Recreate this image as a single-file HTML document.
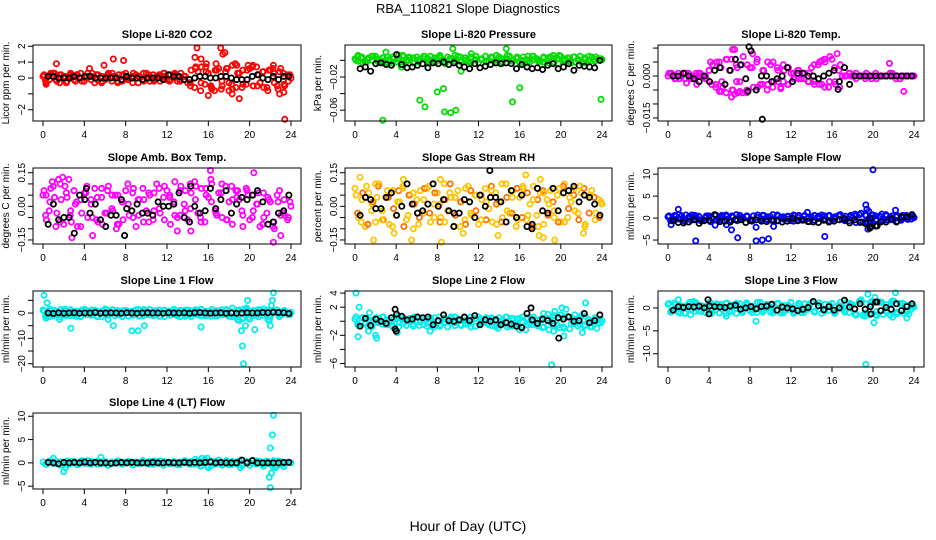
<!DOCTYPE html>
<html><head><meta charset="utf-8"><title>RBA_110821 Slope Diagnostics</title>
<style>
html,body{margin:0;padding:0;background:#fff;}
svg{display:block;font-family:"Liberation Sans",Arial,sans-serif;}
</style></head>
<body>
<svg id="chart" width="936" height="540" viewBox="0 0 936 540" xmlns="http://www.w3.org/2000/svg">
<rect x="0" y="0" width="936" height="540" fill="#fff"/>
<text x="468" y="13" text-anchor="middle" font-size="13">RBA_110821  Slope Diagnostics</text>
<text x="468" y="531" text-anchor="middle" font-size="14">Hour of Day (UTC)</text>
</svg>
<script>
// ---- data ----
const xTicks = [0,4,8,12,16,20,24];

const co2A=[0.1,-0.3,0.2,0.3,-0.2,0.2,0.1,-0.2,0.3,-0.1,0.2,0.0,-0.2,0.3,0.1,-0.3,0.2,0.1,-0.1,0.3,-0.2,0.1,0.2,-0.2,0.3,0.0,-0.3,0.2,0.1,-0.1,0.3,-0.2,0.2,0.1,-0.2,0.3,-0.1,0.2,0.0,-0.2,0.3,0.1,-0.3,0.5,-0.6,0.4,0.7,-0.4,0.3,-0.7,0.5,0.6,-0.5,0.4,-0.3,0.8,-0.6,0.3,0.5,-0.4,0.6,-0.5,0.7,-0.3,0.4,-0.6,0.5,0.3,-0.5,0.6,-0.4,0.2,0.0];
const co2B=[-0.2,0.3,-0.1,0.2,-0.3,0.1,0.2,-0.2,0.1,0.3,-0.1,-0.2,0.2,0.1,-0.3,0.2,-0.1,0.3,0.1,-0.2,0.2,-0.1,0.1,0.3,-0.2,0.2,-0.1,0.1,-0.3,0.6,-0.8,0.7,-0.5,0.9,-0.7,0.6,-0.4,0.8,-0.6,0.5,0.7,-0.5,0.4,-0.8,0.6,-0.7,0.3,-0.2];
const co2C=[0.2,-0.1,0.3,-0.3,0.1,0.2,-0.2,0.3,0.0,-0.1,0.2,-0.3,0.1,0.3,-0.2,0.2,-0.1,0.1,-0.3,0.3,0.0,-0.2,0.2,0.1,-0.1,0.3,-0.2,0.1,-0.5,0.7,-0.3,0.4,-0.6,0.5,-0.2,0.6,-0.7,0.3,-0.4,0.8,-0.5,0.2,-0.6,0.5,-0.3,0.4,-0.5,0.2];
const co2K=[0.1,0.1,0.0,0.0,0.0,0.1,0.0,0.1,0.1,0.0,0.0,0.0,0.0,0.0,-0.1,0.1,0.0,0.0,-0.1,0.0,0.0,0.0,-0.1,0.2,0.1,0.1,-0.1,-0.1,0.0,0.1,0.1,0.0,0.0,0.1,0.1,0.0,-0.1,-0.1,-0.1,0.1,0.2,0.0,-0.1,0.1,-0.1,0.1,0.1];
const co2OutH=[0.3,1.3,4.5,5.9,6.8,7.8,14.7,14.9,15.3,16.0,17.2,17.4,17.6,18.0,18.3,19.0,18.6,20.3,22.9,23.3,23.4,22.3,15.8,16.6];
const co2OutV=[-0.4,0.9,0.6,0.8,1.2,1.1,1.3,1.9,1.2,-1.1,1.9,1.5,1.6,-0.8,-1.0,-1.3,0.9,0.8,-1.0,-0.9,-2.6,0.8,0.9,-0.8];

const presA=[0.002,-0.001,0.004,-0.002,0.003,0.000,0.005,-0.001,0.003,-0.003,0.001,0.004,-0.002,0.002,0.005,-0.001,0.003,-0.003,0.004,0.000,0.002,-0.002,0.005,0.001,-0.001,0.003,-0.003,0.004,0.000,0.002,0.005,-0.002,0.003,-0.001,0.004,0.001,-0.003,0.002,0.005,-0.001,0.003,0.000,0.004,-0.002,0.002,0.005,-0.001,0.003,-0.003,0.004,0.001,-0.002,0.005,0.002,-0.001,0.003,0.000,0.004,-0.002,0.002,0.005,-0.001,0.003,-0.003,0.004,0.001,-0.002,0.003,0.000,0.004,-0.001,0.002,0.001];
const presB=[0.004,-0.003,0.001,0.005,-0.002,0.003,-0.004,0.002,0.006,-0.001,0.004,-0.003,0.001,0.005,-0.002,0.003,0.006,-0.004,0.002,-0.001,0.004,0.000,-0.003,0.005,0.001,-0.002,0.003,0.006,-0.004,0.002,-0.001,0.004,0.000,-0.003,0.005,0.001,-0.002,0.003,0.006,-0.004,0.002,-0.001,0.004,0.000,-0.003,0.005,0.001,0.002];
const presC=[0.000,0.003,-0.002,0.005,0.001,-0.001,0.004,-0.003,0.002,0.006,0.000,0.003,-0.002,0.005,0.001,-0.001,0.004,-0.003,0.002,0.006,0.000,0.003,-0.002,0.005,0.001,-0.001,0.004,-0.003,0.002,0.006,0.000,0.003,-0.002,0.005,0.001,-0.001,0.004,-0.003,0.002,0.006,0.000,0.003,-0.002,0.005,0.001,-0.001,0.004,0.002];
const presK=[-0.010,-0.008,-0.013,-0.004,-0.003,-0.005,-0.006,0.007,-0.005,-0.009,-0.008,-0.006,-0.004,-0.009,-0.003,-0.004,-0.002,-0.005,-0.003,-0.006,-0.008,-0.010,-0.004,-0.009,-0.007,-0.005,-0.003,-0.004,-0.003,-0.004,-0.010,-0.005,-0.008,-0.010,-0.009,-0.011,-0.006,-0.004,-0.010,-0.008,-0.004,-0.012,-0.006,-0.007,-0.008,-0.009,0.000];
const presOutH=[0.3,2.7,6.3,6.8,8.0,8.6,8.7,9.3,9.8,10.3,15.3,16.0,23.9,3.0,9.5,14.7,4.5,11.3];
const presOutV=[0.006,-0.072,-0.048,-0.056,-0.038,-0.034,-0.062,-0.063,-0.060,-0.013,-0.050,-0.033,-0.047,0.010,0.014,0.014,-0.008,0.008];

const tempA=[0.000,0.001,-0.001,0.001,0.000,-0.001,0.001,0.000,-0.001,0.001,0.000,-0.001,0.002,0.004,-0.003,0.005,-0.004,0.006,0.002,-0.005,0.004,-0.002,0.007,-0.006,0.003,-0.004,0.005,-0.003,0.002,-0.005,0.004,-0.002,0.003,-0.004,0.002,-0.003,0.001,-0.001,0.002,-0.001,0.001,-0.002,0.003,-0.002,0.004,-0.003,0.005,-0.004,0.006,-0.003,0.002,0.000,0.000,0.001,0.000,-0.001,0.000,0.000,0.001,0.000,0.000,-0.001,0.000,0.000,0.000,0.001,0.000,0.000,-0.001,0.000,0.000,0.000,0.000];
const tempB=[0.001,-0.001,0.000,0.001,-0.001,0.001,0.000,-0.001,-0.003,0.005,-0.002,0.006,-0.005,0.003,-0.006,0.004,0.008,-0.004,0.002,-0.003,0.005,-0.002,0.004,-0.003,0.001,-0.001,0.001,-0.002,0.004,-0.003,0.006,-0.002,0.003,-0.004,0.000,0.001,0.000,0.000,-0.001,0.000,0.001,0.000,0.000,0.000,-0.001,0.000,0.000,0.000];
const tempC=[0.001,0.000,-0.001,0.001,-0.001,0.000,0.001,0.000,0.005,-0.004,0.003,-0.006,0.006,-0.002,0.004,-0.005,0.003,0.006,-0.003,0.005,-0.004,0.002,-0.002,0.003,-0.001,0.002,-0.001,0.001,-0.003,0.005,-0.004,0.007,-0.002,0.004,0.000,0.000,0.001,0.000,0.000,-0.001,0.000,0.000,0.000,0.001,0.000,0.000,0.000,0.000];
const tempK=[0.000,0.000,0.001,0.000,-0.001,-0.002,0.000,-0.002,0.002,0.003,-0.003,0.002,0.006,0.004,-0.001,0.009,-0.005,0.000,0.000,-0.002,-0.001,0.000,0.003,-0.002,0.001,0.001,0.000,0.000,-0.001,0.000,0.001,0.002,-0.002,0.003,-0.003,0.000,0.000,0.000,0.000,0.000,0.000,0.000,0.000,0.000,0.000,0.000,0.000];
const tempOutH=[5.0,5.2,6.2,6.5,6.8,7.0,6.3,6.5,11.0,16.5,21.6,23.0,1.8,2.8,15.0];
const tempOutV=[-0.0055,-0.0055,-0.0075,-0.0065,-0.006,-0.0055,0.0095,0.0095,-0.0045,0.008,0.0045,-0.0055,-0.0025,-0.003,0.0055];
const tempKOutH=[9.2,7.8,16.6,7.9];
const tempKOutV=[-0.0155,-0.0055,-0.0048,0.0105];

const ambA=[0.05,-0.06,0.02,0.09,-0.03,0.10,-0.08,0.04,-0.02,0.07,-0.09,0.03,0.06,-0.05,0.01,0.08,-0.07,0.04,-0.03,0.09,-0.01,0.05,-0.08,0.02,0.07,-0.04,0.06,-0.09,0.03,0.08,-0.02,0.05,-0.06,0.10,-0.03,0.04,0.07,-0.08,0.02,-0.05,0.09,0.01,-0.06,0.06,0.11,-0.03,0.08,-0.07,0.04,0.10,-0.02,0.06,-0.05,0.09,0.02,-0.08,0.07,0.03,-0.04,0.08,-0.06,0.05,0.01,-0.09,0.06,-0.03,0.02,-0.07,0.05,-0.04,0.03,-0.06,0.00];
const ambB=[-0.04,0.08,-0.09,0.03,0.06,-0.07,0.02,-0.03,0.09,-0.05,0.04,-0.08,0.07,-0.02,0.05,-0.06,0.01,0.08,-0.04,0.03,-0.07,0.06,-0.01,0.09,0.05,-0.04,0.07,-0.02,0.10,0.03,-0.05,0.08,0.12,-0.03,0.06,-0.06,0.09,0.04,-0.02,0.07,-0.05,0.01,-0.08,0.04,-0.09,0.02,-0.03,-0.05];
const ambC=[0.07,-0.02,0.04,-0.07,0.09,-0.04,0.01,-0.09,0.06,0.03,-0.06,0.08,-0.03,0.05,-0.08,0.02,0.10,-0.05,0.03,-0.07,0.06,-0.02,0.08,-0.06,0.04,0.11,-0.04,0.07,-0.01,0.09,-0.07,0.05,0.02,-0.04,0.10,-0.06,0.03,0.07,-0.09,0.05,-0.02,0.06,-0.05,0.03,-0.10,0.07,-0.04,0.02];
const ambK=[-0.08,0.01,-0.06,-0.05,-0.05,-0.12,0.05,0.03,-0.03,0.01,-0.06,-0.09,-0.04,-0.04,0.03,-0.01,-0.02,0.01,-0.03,-0.03,-0.04,0.02,0.00,0.00,0.01,0.06,-0.05,-0.07,0.00,-0.03,-0.02,0.08,-0.01,0.03,0.07,-0.03,0.01,0.04,0.03,0.05,0.07,0.02,-0.08,-0.07,-0.03,-0.02,0.05];
const ambOutH=[0.9,1.5,1.9,2.5,2.8,4.8,16.2,20.4,22.2,22.3,23.0,14.3,13.0,7.1,0.3];
const ambOutV=[0.11,0.12,0.13,0.12,-0.14,-0.13,0.16,0.15,-0.17,-0.16,-0.13,-0.11,-0.11,-0.10,0.05];
const ambKOutH=[7.9,14.3,4.2];
const ambKOutV=[-0.13,0.09,0.08];

const rhA=[0.08,-0.05,0.03,-0.09,0.06,0.01,-0.07,0.10,-0.02,0.04,-0.08,0.07,-0.04,0.02,0.09,-0.06,0.05,-0.10,0.03,0.07,-0.03,0.08,-0.07,0.01,0.06,-0.05,0.10,-0.02,0.04,-0.09,0.07,0.02,-0.06,0.09,-0.04,0.05,-0.08,0.03,0.08,-0.01,-0.07,0.06,0.02,-0.05,0.10,-0.03,0.07,-0.09,0.04,0.08,-0.06,0.01,0.09,-0.04,0.06,-0.08,0.03,0.07,-0.02,0.05,-0.07,0.10,-0.05,0.02,0.08,-0.03,0.06,-0.09,0.04,0.07,-0.06,0.03,0.01];
const rhB=[-0.03,0.06,-0.08,0.02,0.09,-0.06,0.04,-0.01,0.07,-0.09,0.05,0.01,-0.05,0.08,-0.03,0.06,-0.07,0.03,0.10,-0.04,0.02,-0.08,0.07,-0.02,0.05,-0.06,0.09,0.01,-0.07,0.04,-0.03,0.08,-0.05,0.06,-0.09,0.03,0.07,-0.04,0.02,-0.07,0.09,-0.01,0.05,-0.06,0.08,-0.03,0.04,-0.05];
const rhC=[0.05,-0.07,0.09,-0.02,0.04,-0.06,0.07,-0.09,0.02,0.08,-0.04,0.06,-0.08,0.03,0.09,-0.05,0.01,-0.07,0.06,0.04,-0.09,0.08,-0.03,0.05,-0.06,0.02,0.07,-0.08,0.10,-0.02,0.04,-0.06,0.09,-0.04,0.03,-0.09,0.06,0.01,-0.05,0.08,-0.07,0.04,-0.02,0.09,-0.08,0.05,-0.03,0.02];
const rhK=[-0.04,0.04,0.03,-0.01,-0.01,0.04,0.06,-0.04,0.00,0.10,0.01,-0.03,-0.02,0.01,0.10,0.00,0.03,-0.02,-0.03,-0.03,0.03,0.02,-0.05,0.05,0.00,0.04,0.04,0.02,-0.07,0.07,-0.05,0.05,-0.09,-0.08,0.08,-0.02,-0.03,0.08,-0.02,0.06,0.07,0.09,0.02,0.05,0.04,0.01,-0.04];
const rhOutH=[0.5,2.0,1.8,4.7,3.8,5.5,8.3,8.4,10.5,13.9,16.6,18.0,17.9,18.3,19.4,22.2];
const rhOutV=[0.13,0.10,-0.15,0.12,-0.12,-0.15,0.12,-0.16,-0.12,-0.13,0.14,0.12,-0.13,-0.14,-0.15,-0.12];
const rhKOutH=[13.1,17.2,9.6];
const rhKOutV=[0.16,-0.10,-0.09];

const flowA=[0.3,-0.4,0.6,-0.2,0.5,-0.5,0.2,0.7,-0.3,0.4,-0.6,0.1,0.5,-0.2,0.6,-0.4,0.3,0.7,-0.5,0.2,-0.3,0.6,-0.1,0.4,-0.6,0.5,0.2,-0.4,0.6,-0.2,0.3,-0.5,0.7,0.1,-0.3,0.4,-0.6,0.5,0.2,-0.4,0.6,-0.1,0.3,-0.5,0.4,0.7,-0.2,0.5,-0.4,0.2,0.6,-0.3,0.4,-0.6,0.1,0.5,0.8,-0.9,0.6,-0.5,0.7,-0.3,0.4,-0.6,0.5,0.2,-0.4,0.6,-0.3,0.4,-0.2,0.3,0.1];
const flowB=[-0.6,0.4,-0.2,0.7,-0.5,0.3,-0.7,0.5,0.1,-0.4,0.6,-0.3,0.5,-0.6,0.2,0.4,-0.5,0.7,-0.2,0.3,-0.6,0.5,-0.1,0.4,-0.7,0.6,-0.3,0.2,-0.5,0.4,-0.4,0.6,-0.2,0.5,-0.6,0.3,0.9,-1.0,0.7,-0.8,0.5,-0.6,0.8,-0.4,0.3,-0.5,0.6,-0.2];
const flowC=[0.5,-0.2,0.8,-0.7,0.3,0.6,-0.5,0.2,-0.8,0.7,-0.1,0.4,-0.6,0.8,-0.3,0.5,-0.7,0.2,0.6,-0.4,0.8,-0.6,0.3,-0.2,0.7,-0.5,0.4,-0.8,0.6,-0.1,0.5,-0.7,0.3,0.8,-0.4,0.6,-1.0,1.1,-0.8,0.7,-0.6,0.9,-0.4,0.5,-0.7,0.6,-0.3,0.4];
const flowK=[-0.6,-1.0,-1.1,-0.9,-0.4,-1.2,-0.6,-0.5,0.8,-0.8,-0.7,-0.9,-0.4,-0.4,-1.0,-0.5,-0.4,-0.7,-0.8,-0.5,-0.6,-0.9,-0.7,0.0,-0.6,-0.5,-0.8,-0.9,-1.0,-0.5,-0.9,-0.7,-0.4,-0.1,-1.1,-0.4,-0.9,-1.2,0.0,-1.8,-0.9,-0.9,-0.2,-0.9,0.2,0.2,0.8];
const flowOutH=[0.3,1.0,2.7,4.6,5.7,6.2,6.8,8.6,8.6,9.2,9.8,10.3,13.6,15.3,19.3,19.4,19.6,19.5,20.0,22.2];
const flowOutV=[-1.5,2.0,-5.2,-1.6,-1.5,-2.7,-4.5,-5.2,-2.1,-5.0,-4.7,-1.9,1.3,-4.2,3.0,2.0,1.5,-2.5,11.0,1.8];
const flowKOutH=[19.7,19.8,20.4];
const flowKOutV=[-2.3,-2.0,-1.8];

const line1A=[1.2,-0.8,1.5,-1.2,0.6,-1.5,1.0,-0.4,1.3,-1.0,0.8,-1.4,1.5,0.3,-0.9,1.1,-1.3,0.7,1.6,-0.6,1.2,-1.1,0.4,-1.4,1.0,0.6,-0.8,1.3,-1.2,0.9,-0.5,1.4,-1.0,0.7,-1.3,1.1,0.3,-0.9,1.5,-1.1,0.8,-0.6,1.2,-1.4,0.9,-0.7,1.3,-1.0,0.5,1.4,-1.2,0.8,-0.6,1.1,-1.3,0.4,-1.6,1.2,-2.0,1.5,-2.4,0.9,-1.1,1.3,-0.8,1.0,-1.5,0.7,1.2,-0.9,0.6,-0.5,0.3];
const line1B=[-1.2,0.9,-0.6,1.4,-1.0,0.5,-1.3,1.1,-0.7,1.2,-1.4,0.6,-0.9,1.3,-0.5,1.0,-1.2,0.8,-1.1,1.4,-0.6,0.9,-1.3,1.2,-0.8,0.7,-1.4,1.1,-0.5,1.3,-1.0,0.6,-1.2,0.9,-0.7,1.4,-1.5,1.0,-2.2,0.8,-1.1,1.2,-0.9,-2.5,1.1,-0.6,0.8,-0.4];
const line1C=[0.8,-1.4,1.1,-0.3,1.5,-1.0,0.4,-1.3,1.2,-0.6,0.9,-1.5,1.3,-0.2,1.0,-1.2,0.6,-0.8,1.4,-1.1,0.3,-0.9,1.2,-1.4,0.7,-0.5,1.1,-1.3,0.9,-0.4,1.5,-1.0,0.5,-1.2,1.3,-0.7,2.0,-2.6,1.4,-1.8,1.0,-1.5,1.6,-1.1,0.8,-1.4,1.0,-0.6];
const line1K=[0.0,-0.2,0.1,-0.1,0.0,0.1,-0.1,0.0,0.0,0.2,-0.1,0.0,0.1,0.0,-0.1,0.1,0.0,-0.1,0.0,0.1,0.0,0.0,-0.1,0.1,0.0,0.0,0.1,-0.1,0.1,0.2,0.0,-0.1,0.0,0.1,-0.1,0.0,-0.1,0.0,0.1,0.0,0.0,0.2,0.1,0.3,0.2,0.1,-0.2];
const line1OutH=[0.1,0.4,0.3,2.7,6.8,8.6,9.2,9.8,15.3,19.2,19.3,19.4,19.6,19.8,19.7,20.5,21.9,22.0,22.1,22.2,22.3,19.0,1.6,6.3];
const line1OutV=[7,4,-2,-6,-5,-7,-7,-5,-5.5,-7,-13,-20,-5,5,2,-6.5,-3,-5,3,5,8,-3,-2.5,-2.5];

const line2A=[0.3,-0.6,0.5,-0.3,0.2,-0.7,0.4,-0.1,0.6,-0.5,0.1,-0.8,0.5,-0.2,0.3,-0.6,0.4,-0.4,0.6,-0.1,0.2,-0.7,0.5,-0.3,0.1,-0.5,0.4,-0.8,0.6,-0.2,0.3,-0.6,0.5,-0.4,0.2,-0.7,0.6,-0.1,0.4,-0.5,0.3,-0.8,0.5,-0.2,0.6,-0.6,0.1,-0.4,0.4,-0.7,0.3,-0.3,0.6,-0.5,0.2,-0.8,0.4,-0.1,0.5,-0.6,0.9,-1.0,0.7,-0.4,0.3,-0.7,0.8,-0.5,0.2,-0.8,0.5,-0.3,0.1];
const line2B=[-0.4,0.5,-0.7,0.2,-0.2,0.6,-0.5,0.3,-0.8,0.4,-0.1,0.6,-0.6,0.2,-0.3,0.5,-0.7,0.3,-0.2,0.6,-0.5,0.1,-0.8,0.4,-0.3,0.5,-0.6,0.2,-0.4,0.6,-0.7,0.3,-0.1,0.5,-0.5,0.2,-0.9,1.0,-0.6,0.4,-0.8,0.6,-0.3,0.5,-0.7,0.2,-0.4,0.3];
const line2C=[0.6,-0.2,0.4,-0.8,0.5,-0.4,0.2,-0.6,0.7,-0.3,0.1,-0.7,0.5,-0.5,0.3,-0.8,0.6,-0.1,0.4,-0.6,0.2,-0.4,0.6,-0.7,0.3,-0.2,0.5,-0.6,0.1,-0.8,0.4,-0.3,0.6,-0.5,0.2,-0.7,1.1,-1.2,0.8,-0.9,0.6,-1.1,0.9,-0.5,0.7,-0.8,0.4,-0.2];
const line2K=[-0.7,0.4,-0.6,0.3,0.0,-0.3,0.5,1.0,0.7,0.2,0.3,0.6,0.5,0.6,-0.5,0.1,0.9,0.1,0.0,0.2,0.6,0.1,0.8,-0.5,0.2,0.0,0.2,-0.5,-0.2,-0.4,-0.7,-0.9,1.1,0.2,-0.3,0.3,0.1,-0.3,0.5,0.3,0.6,0.0,0.1,1.1,-0.2,0.1,0.9];
const line2OutH=[0.1,0.4,0.3,1.3,2.0,2.1,4.1,7.3,1.4,19.1,19.3,19.4,20.1,20.3,20.5,22.1,22.4,23.5,16.0,16.6,13.9];
const line2OutV=[4,2,-2.2,-1.4,-2,-2.4,-1.6,-1.4,1.2,-6.2,-1.4,1.4,1.9,-2.1,1.7,-1.6,2.6,-1.0,-1.2,-1.2,-1.0];
const line2KOutH=[3.9,17.1,19.8,4.0,3.9];
const line2KOutV=[1.7,1.9,-2.4,-1.4,-1.1];

const line3A=[0.8,-0.6,1.1,-0.9,0.4,-1.2,0.9,-0.3,1.2,-0.7,0.5,-1.0,1.1,-0.4,0.7,-1.1,0.3,1.0,-0.8,0.6,-1.2,0.9,-0.2,1.1,-0.6,0.4,-1.0,1.2,-0.5,0.8,-0.9,0.3,1.0,-1.1,0.6,-0.4,1.2,-0.8,0.5,-1.0,0.9,-0.3,1.1,-0.7,0.4,-1.2,0.8,-0.5,1.0,-0.9,0.6,-0.2,1.1,-1.0,0.7,-1.3,1.4,-1.6,0.9,-1.5,1.3,-0.8,1.2,-1.4,0.7,-1.6,1.5,-0.9,1.0,-1.2,0.6,-0.4,0.2];
const line3B=[-0.9,0.7,-1.1,0.4,-0.5,1.0,-0.8,0.3,-1.2,0.9,-0.2,1.1,-0.7,0.5,-1.0,0.8,-0.4,1.2,-0.9,0.3,-0.6,1.0,-1.1,0.6,-0.3,0.9,-1.0,0.4,-0.8,1.1,-0.5,0.7,-1.2,0.2,-0.9,1.0,-1.4,1.6,-1.2,0.8,-1.5,1.3,-0.7,1.1,-1.3,0.6,-0.8,0.4];
const line3C=[1.0,-0.4,0.6,-1.1,1.2,-0.7,0.3,-0.9,1.1,-0.5,0.8,-1.2,0.4,1.0,-0.8,0.6,-1.0,1.2,-0.3,0.7,-1.1,0.9,-0.6,0.5,-1.2,1.0,-0.4,0.8,-0.9,1.1,-0.7,0.4,-1.0,1.2,-0.5,0.7,-1.6,1.8,-1.1,1.4,-1.7,1.2,-0.9,1.5,-1.2,1.0,-0.7,0.5];
const line3K=[-0.5,0.3,0.1,0.3,0.2,0.4,0.0,0.4,0.3,0.2,0.1,0.4,0.6,-0.3,0.0,0.3,-0.2,0.3,0.4,0.8,-0.5,0.2,0.0,-0.2,-0.6,-0.3,0.1,1.4,0.5,-0.4,0.3,-0.5,0.0,1.7,0.2,-0.2,0.9,-0.3,0.3,1.3,-0.6,0.1,-0.3,0.9,-0.6,0.3,0.9];
const line3OutH=[1.0,2.2,2.5,5.7,8.6,19.3,19.5,19.2,20.1,20.2,21.9,22.2,22.0,23.3,23.5];
const line3OutV=[1.8,-1.5,1.4,-1.8,-2.9,-12.3,3.0,-1.8,-3.2,2.3,-2,3.3,1.5,-2.2,-1.3];
const line3KOutH=[3.9,4.0,20.4,19.8];
const line3KOutV=[1.8,-1.3,1.3,-1.3];

const line4A=[0.2,-0.3,0.4,-0.1,0.3,-0.5,0.1,0.4,-0.2,0.3,-0.4,0.2,-0.1,0.5,-0.3,0.1,0.4,-0.2,0.3,-0.5,0.2,-0.1,0.4,-0.3,0.1,0.3,-0.4,0.2,-0.2,0.5,-0.1,0.3,-0.3,0.2,0.4,-0.5,0.1,-0.2,0.3,-0.4,0.2,0.4,-0.1,0.3,-0.3,0.5,-0.6,0.7,-0.8,0.4,-0.3,0.6,-0.5,0.2,-0.4,0.3,-0.1,0.4,-0.3,0.2,-0.5,0.6,-0.2,0.3,-0.7,0.4,-0.1,0.5,-0.6,0.3,-0.2,0.1,0.0];
const line4B=[-0.3,0.4,-0.1,0.2,-0.4,0.3,-0.2,0.5,-0.1,0.3,-0.3,0.2,-0.5,0.1,0.4,-0.2,0.3,-0.4,0.1,0.2,-0.3,0.4,-0.1,0.3,-0.2,0.1,-0.4,0.5,-0.3,0.8,-0.7,0.4,-0.6,0.3,-0.2,0.5,-0.4,0.2,-0.6,0.3,-0.1,0.4,-0.3,0.2,-0.8,0.4,-0.2,0.1];
const line4C=[];
const line4K=[0.1,0.0,-0.2,0.1,0.0,0.1,0.0,0.2,0.0,0.1,0.0,0.0,-0.1,0.0,0.1,0.0,0.1,0.0,0.0,0.0,0.1,0.0,0.0,0.1,0.0,0.0,0.1,0.0,0.1,0.0,0.1,0.2,0.0,0.1,0.0,0.0,0.0,0.6,0.0,0.5,0.0,0.0,0.0,0.0,0.0,0.1,0.1];
const line4OutH=[1.0,2.0,2.2,5.6,15.4,15.9,16.0,19.1,21.9,22.0,22.0,22.1,22.2,22.3,22.5,23.3];
const line4OutV=[1.0,-1.9,-1.0,1.2,1.0,1.0,-1.0,-1.0,-3.1,-5.3,3.2,-2.2,6.0,10.2,-1.0,-0.8];

const panels=[
 {name:'co2',title:'Slope Li-820 CO2',ylab:'Licor ppm per min.',box:[33,45,301,121],ylim:[-2.71,2.08],ticks:[-2,-1,0,1,2],tl:['\u22122','','0','1','2'],col:'#ff0000',colB:'#ff0000',A:co2A,B:co2B,C:co2C,K:co2K,oh:co2OutH,ov:co2OutV,kh:[],kv:[]},
 {name:'pressure',title:'Slope Li-820 Pressure',ylab:'kPa per min.',box:[345,45,612,121],ylim:[-0.073,0.0185],ticks:[0,-0.02,-0.04,-0.06],tl:['','\u22120.02','','\u22120.06'],col:'#00dd00',colB:'#00dd00',A:presA,B:presB,C:presC,K:presK,oh:presOutH,ov:presOutV,kh:[],kv:[]},
 {name:'temp',title:'Slope Li-820 Temp.',ylab:'degrees C per min.',box:[658,45,924,121],ylim:[-0.0161,0.0111],ticks:[0.01,0.005,0,-0.005,-0.01,-0.015],tl:['','','0.000','','','\u22120.015'],col:'#ff00ff',colB:'#ff00ff',A:tempA,B:tempB,C:tempC,K:tempK,oh:tempOutH,ov:tempOutV,kh:tempKOutH,kv:tempKOutV},
 {name:'amb-box-temp',title:'Slope Amb. Box Temp.',ylab:'degrees C per min.',box:[33,168,301,244],ylim:[-0.168,0.171],ticks:[0.15,0.1,0.05,0,-0.05,-0.1,-0.15],tl:['0.15','','','0.00','','','\u22120.15'],col:'#ff00ff',colB:'#ff00ff',A:ambA,B:ambB,C:ambC,K:ambK,oh:ambOutH,ov:ambOutV,kh:ambKOutH,kv:ambKOutV},
 {name:'gas-stream-rh',title:'Slope Gas Stream RH',ylab:'percent per min.',box:[345,168,612,244],ylim:[-0.168,0.171],ticks:[0.15,0.1,0.05,0,-0.05,-0.1,-0.15],tl:['0.15','','','0.00','','','\u22120.15'],col:'#ffc400',colB:'#ff7000',A:rhA,B:rhB,C:rhC,K:rhK,oh:rhOutH,ov:rhOutV,kh:rhKOutH,kv:rhKOutV},
 {name:'sample-flow',title:'Slope Sample Flow',ylab:'ml/min per min.',box:[658,168,924,244],ylim:[-5.9,11.4],ticks:[10,5,0,-5],tl:['10','5','0','\u22125'],col:'#0000ff',colB:'#0000ff',A:flowA,B:flowB,C:flowC,K:flowK,oh:flowOutH,ov:flowOutV,kh:flowKOutH,kv:flowKOutV},
 {name:'line1-flow',title:'Slope Line 1 Flow',ylab:'ml/min per min.',box:[33,291,301,367],ylim:[-21.3,8.7],ticks:[5,0,-5,-10,-15,-20],tl:['','0','','\u221210','','\u221220'],col:'#00eeee',colB:'#00eeee',A:line1A,B:line1B,C:line1C,K:line1K,oh:line1OutH,ov:line1OutV,kh:[],kv:[]},
 {name:'line2-flow',title:'Slope Line 2 Flow',ylab:'ml/min per min.',box:[345,291,612,367],ylim:[-6.5,4.3],ticks:[4,2,0,-2,-4,-6],tl:['4','2','','\u22122','','\u22126'],col:'#00eeee',colB:'#00eeee',A:line2A,B:line2B,C:line2C,K:line2K,oh:line2OutH,ov:line2OutV,kh:line2KOutH,kv:line2KOutV},
 {name:'line3-flow',title:'Slope Line 3 Flow',ylab:'ml/min per min.',box:[658,291,924,367],ylim:[-12.9,3.7],ticks:[0,-5,-10],tl:['0','\u22125','\u221210'],col:'#00eeee',colB:'#00eeee',A:line3A,B:line3B,C:line3C,K:line3K,oh:line3OutH,ov:line3OutV,kh:line3KOutH,kv:line3KOutV},
 {name:'line4-flow',title:'Slope Line 4 (LT) Flow',ylab:'ml/min per min.',box:[33,413,301,489],ylim:[-5.6,10.7],ticks:[10,5,0,-5],tl:['10','5','0','\u22125'],col:'#00eeee',colB:'#00eeee',A:line4A,B:line4B,C:line4C,K:line4K,oh:line4OutH,ov:line4OutV,kh:[],kv:[]}
];

// ---- drawing ----
const NS='http://www.w3.org/2000/svg';
const svg=document.getElementById('chart');
function mk(tag,attrs,parent){const e=document.createElementNS(NS,tag);for(const k in attrs)e.setAttribute(k,attrs[k]);(parent||svg).appendChild(e);return e;}

panels.forEach(p=>{
  const [x0,y0,x1,y1]=p.box;
  const xs=h=>x0+10+h*(x1-x0-20)/24;
  const ys=v=>y1-(v-p.ylim[0])/(p.ylim[1]-p.ylim[0])*(y1-y0);
  const g=mk('g',{});
  
  

  const t=mk('text',{x:(x0+x1)/2,y:y0-7,'text-anchor':'middle','font-size':11,'font-weight':'bold'},g);
  t.textContent=p.title;
  
  

  const yl=mk('text',{x:0,y:0,'text-anchor':'middle','font-size':10,transform:`translate(${x0-24},${(y0+y1)/2}) rotate(-90)`},g);
  yl.textContent=p.ylab;
  
  

  const pts=mk('g',{fill:'none','stroke-width':1.8},g);
  
  
  const dot=(h,v,c,nm)=>{
    if(v<p.ylim[0]||v>p.ylim[1])return;
    const c1=mk('circle',{cx:xs(h).toFixed(1),cy:ys(v).toFixed(1),r:2.6,stroke:c},pts);
    
    
  };
  p.A.forEach((v,i)=>dot(i*24/(p.A.length-1),v,p.col,'point-a'));
  p.B.forEach((v,i)=>dot(0.25+i*23.5/(p.B.length-1),v,p.colB,'point-b'));
  p.C.forEach((v,i)=>dot(0.1+i*23.8/(p.C.length-1),v,p.col,'point-c'));
  p.oh.forEach((h,i)=>dot(h,p.ov[i],p.col,'point-outlier'));
  p.K.forEach((v,i)=>dot(0.5+i*23.3/(p.K.length-1),v,'#000','point-reference'));
  p.kh.forEach((h,i)=>dot(h,p.kv[i],'#000','point-reference-outlier'));

  const box=mk('rect',{x:x0,y:y0,width:x1-x0,height:y1-y0,fill:'none',stroke:'#000','stroke-width':1},g);
  
  

  const xa=mk('g',{},g);
  
  
  mk('line',{x1:xs(0),x2:xs(24),y1:y1,y2:y1,stroke:'#000'},xa);
  xTicks.forEach(h=>{
    mk('line',{x1:xs(h),x2:xs(h),y1:y1,y2:y1+5,stroke:'#000'},xa);
    const tt=mk('text',{x:xs(h),y:y1+17,'text-anchor':'middle','font-size':10},xa);
    tt.textContent=h;
    
    
  });

  const ya=mk('g',{},g);
  
  
  const tmin=Math.min(...p.ticks),tmax=Math.max(...p.ticks);
  mk('line',{x1:x0,x2:x0,y1:ys(tmin),y2:ys(tmax),stroke:'#000'},ya);
  p.ticks.forEach((v,i)=>{
    const yy=ys(v);
    mk('line',{x1:x0-5,x2:x0,y1:yy,y2:yy,stroke:'#000'},ya);
    if(p.tl[i]){
      const tt=mk('text',{x:0,y:0,'text-anchor':'middle','font-size':10,transform:`translate(${x0-8},${yy}) rotate(-90)`},ya);
      tt.textContent=p.tl[i];
      
      
    }
  });
});
</script>
</body></html>
